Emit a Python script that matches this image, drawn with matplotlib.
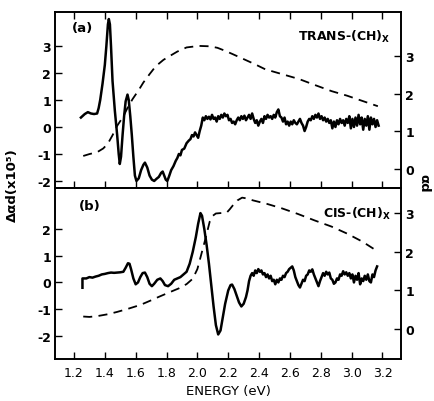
import matplotlib
matplotlib.use("Agg")
import matplotlib.pyplot as plt

plt.rcParams['font.family'] = 'DejaVu Sans'
plt.rcParams['axes.unicode_minus'] = False
plt.rcParams['mathtext.fontset'] = 'dejavusans'

# (a) trans-(CH)x : modulation spectrum (left axis) and absorption (right axis)
energy_a = [1.245, 1.27, 1.29, 1.31, 1.33, 1.35, 1.36, 1.37, 1.385, 1.40, 1.41, 1.42, 1.426, 1.433,
            1.44, 1.45, 1.465, 1.48, 1.49, 1.497, 1.505, 1.515, 1.525, 1.535, 1.547, 1.555, 1.565,
            1.575, 1.585, 1.595, 1.605, 1.62, 1.635, 1.65, 1.66, 1.675, 1.69, 1.705, 1.72, 1.735,
            1.75, 1.765, 1.775, 1.785, 1.795, 1.805, 1.815, 1.83, 1.845, 1.86, 1.87, 1.88, 1.89,
            1.90, 1.915, 1.93, 1.945, 1.955, 1.965, 1.975, 1.985, 1.995, 2.005, 2.015, 2.025,
            2.035, 2.045, 2.055, 2.065, 2.075, 2.085, 2.095, 2.105, 2.115, 2.125, 2.135, 2.145,
            2.155, 2.165, 2.175, 2.185, 2.195, 2.205, 2.215, 2.225, 2.235, 2.245, 2.255, 2.265,
            2.275, 2.285, 2.295, 2.305, 2.315, 2.325, 2.335, 2.345, 2.355, 2.365, 2.375, 2.385,
            2.395, 2.405, 2.415, 2.425, 2.435, 2.445, 2.455, 2.465, 2.475, 2.485, 2.495, 2.505,
            2.515, 2.525, 2.535, 2.545, 2.555, 2.565, 2.575, 2.585, 2.595, 2.605, 2.615, 2.625,
            2.635, 2.645, 2.655, 2.665, 2.675, 2.685, 2.695, 2.705, 2.715, 2.725, 2.735, 2.745,
            2.755, 2.765, 2.775, 2.785, 2.795, 2.805, 2.815, 2.825, 2.835, 2.845, 2.855, 2.865,
            2.875, 2.885, 2.895, 2.905, 2.915, 2.925, 2.935, 2.945, 2.955, 2.965, 2.975, 2.985,
            2.995, 3.005, 3.015, 3.025, 3.035, 3.045, 3.055, 3.065, 3.075, 3.085, 3.095, 3.105,
            3.115, 3.125, 3.135, 3.145, 3.155, 3.165, 3.175]
dad_a = [0.35, 0.48, 0.55, 0.50, 0.48, 0.50, 0.70, 1.00, 1.60, 2.30, 3.00, 3.80, 4.00, 3.80,
         3.00, 1.70, 0.60, -0.30, -1.00, -1.37, -1.10, -0.30, 0.40, 0.95, 1.20, 1.00, 0.40,
         -0.30, -1.10, -1.80, -2.00, -1.90, -1.60, -1.40, -1.32, -1.50, -1.80, -1.95, -2.00, -1.92,
         -1.85, -1.70, -1.65, -1.80, -1.95, -2.00, -1.85, -1.60, -1.45, -1.25, -1.15, -1.00, -1.05,
         -0.85, -0.80, -0.60, -0.50, -0.45, -0.30, -0.35, -0.20, -0.30, -0.40, -0.15, 0.05,
         0.35, 0.25, 0.40, 0.30, 0.38, 0.28, 0.45, 0.30, 0.35, 0.20, 0.40, 0.30,
         0.45, 0.35, 0.50, 0.40, 0.45, 0.25, 0.30, 0.15, 0.20, 0.10, 0.25, 0.35,
         0.25, 0.40, 0.30, 0.42, 0.25, 0.35, 0.45, 0.30, 0.50, 0.30, 0.15, 0.25,
         0.05, 0.20, 0.30, 0.15, 0.40, 0.30, 0.45, 0.35, 0.40, 0.30, 0.45, 0.35,
         0.55, 0.65, 0.40, 0.35, 0.20, 0.35, 0.10, 0.20, 0.05, 0.20, 0.10, 0.25,
         0.15, 0.10, 0.20, 0.30, 0.15, 0.05, -0.15, 0.00, 0.20, 0.30, 0.25, 0.40,
         0.30, 0.45, 0.35, 0.50, 0.30, 0.40, 0.25, 0.35, 0.20, 0.30, 0.15, 0.25,
         -0.05, 0.20, 0.00, 0.25, 0.10, 0.30, 0.15, 0.25, 0.05, 0.30, 0.15, 0.40,
         -0.05, 0.30, 0.00, 0.35, 0.05, 0.45, 0.10, 0.35, -0.10, 0.30, 0.05, 0.40,
         -0.10, 0.35, 0.10, 0.30, 0.00, 0.25, 0.05]
abs_energy_a = [1.26, 1.30, 1.35, 1.39, 1.42, 1.45, 1.48, 1.52, 1.55, 1.58, 1.62, 1.65, 1.69,
                1.73, 1.78, 1.82, 1.87, 1.93, 2.01, 2.08, 2.13, 2.18, 2.23, 2.30, 2.37, 2.44,
                2.55, 2.66, 2.77, 2.87, 2.97, 3.07, 3.17]
ad_a = [0.35, 0.40, 0.45, 0.55, 0.68, 0.90, 1.15, 1.40, 1.65, 1.86, 2.10, 2.30, 2.52,
        2.73, 2.90, 3.00, 3.12, 3.23, 3.27, 3.26, 3.22, 3.14, 3.05, 2.92, 2.79, 2.65,
        2.52, 2.39, 2.22, 2.07, 1.95, 1.81, 1.67]

# (b) cis-(CH)x
energy_b = [1.255, 1.255, 1.28, 1.30, 1.32, 1.34, 1.36, 1.38, 1.40, 1.42, 1.44, 1.46, 1.48, 1.50,
            1.52, 1.535, 1.55, 1.56, 1.57, 1.585, 1.60, 1.615, 1.63, 1.645, 1.66, 1.675, 1.69,
            1.705, 1.72, 1.74, 1.76, 1.775, 1.79, 1.81, 1.83, 1.85, 1.87, 1.89, 1.91, 1.93,
            1.95, 1.97, 1.99, 2.005, 2.02, 2.03, 2.045, 2.06, 2.075, 2.09, 2.105, 2.12, 2.135,
            2.15, 2.165, 2.18, 2.20, 2.215, 2.225, 2.24, 2.255, 2.27, 2.285, 2.30, 2.315, 2.325,
            2.335, 2.345, 2.355, 2.365, 2.375, 2.385, 2.395, 2.405, 2.415, 2.425, 2.435, 2.445,
            2.455, 2.465, 2.475, 2.485, 2.495, 2.505, 2.515, 2.525, 2.535, 2.545, 2.555, 2.565,
            2.575, 2.585, 2.595, 2.605, 2.615, 2.625, 2.635, 2.645, 2.655, 2.665, 2.675, 2.685,
            2.695, 2.705, 2.715, 2.725, 2.735, 2.745, 2.755, 2.765, 2.775, 2.785, 2.795, 2.805,
            2.815, 2.825, 2.835, 2.845, 2.855, 2.865, 2.875, 2.885, 2.895, 2.905, 2.915, 2.925,
            2.935, 2.945, 2.955, 2.965, 2.975, 2.985, 2.995, 3.005, 3.015, 3.025, 3.035, 3.045,
            3.055, 3.065, 3.075, 3.085, 3.095, 3.105, 3.115, 3.125, 3.135, 3.145, 3.155, 3.165]
dad_b = [-0.20, 0.15, 0.15, 0.20, 0.18, 0.22, 0.25, 0.30, 0.32, 0.35, 0.37, 0.36, 0.37, 0.38,
         0.40, 0.55, 0.72, 0.70, 0.50, 0.15, -0.07, 0.00, 0.20, 0.35, 0.37, 0.20, -0.05,
         -0.14, -0.05, 0.10, 0.15, 0.05, -0.10, -0.14, -0.05, 0.10, 0.15, 0.20, 0.30, 0.40,
         0.70, 1.15, 1.70, 2.20, 2.60, 2.50, 2.00, 1.40, 0.70, -0.10, -0.90, -1.60, -1.95,
         -1.80, -1.30, -0.80, -0.30, -0.10, -0.08, -0.25, -0.50, -0.75, -0.90, -0.80, -0.55, -0.30,
         0.05, 0.25, 0.35, 0.25, 0.45, 0.35, 0.50, 0.40, 0.45, 0.30, 0.35, 0.20,
         0.30, 0.15, 0.25, 0.05, 0.10, -0.07, 0.10, 0.00, 0.15, 0.10, 0.25, 0.20,
         0.35, 0.40, 0.50, 0.55, 0.60, 0.45, 0.20, 0.05, -0.10, -0.19, -0.05, 0.10,
         0.05, 0.25, 0.30, 0.45, 0.40, 0.49, 0.30, 0.15, 0.00, -0.14, 0.05, 0.20,
         0.35, 0.25, 0.40, 0.30, 0.37, 0.15, 0.10, -0.05, 0.00, 0.15, 0.10, 0.30,
         0.25, 0.42, 0.30, 0.38, 0.25, 0.35, 0.15, 0.30, 0.00, 0.25, 0.10, 0.35,
         -0.07, 0.15, 0.05, 0.25, 0.10, 0.30, 0.05, 0.00, 0.30, 0.20, 0.45, 0.60]
abs_energy_b = [1.26, 1.30, 1.35, 1.42, 1.48, 1.55, 1.63, 1.70, 1.75, 1.82, 1.88, 1.93, 1.97,
                2.00, 2.02, 2.05, 2.08, 2.10, 2.12, 2.15, 2.19, 2.21, 2.23, 2.26, 2.29, 2.32,
                2.36, 2.45, 2.55, 2.65, 2.76, 2.87, 2.97, 3.07, 3.16]
ad_b = [0.32, 0.31, 0.33, 0.38, 0.44, 0.52, 0.62, 0.74, 0.83, 0.95, 1.05, 1.16, 1.30,
        1.55, 1.85, 2.30, 2.78, 2.93, 2.99, 3.00, 3.01, 3.10, 3.20, 3.33, 3.40, 3.38,
        3.33, 3.24, 3.12, 2.98, 2.81, 2.65, 2.47, 2.26, 2.03]

x_ticks = [1.2, 1.4, 1.6, 1.8, 2.0, 2.2, 2.4, 2.6, 2.8, 3.0, 3.2]
x_labels = ['1.2', '1.4', '1.6', '1.8', '2.0', '2.2', '2.4', '2.6', '2.8', '3.0', '3.2']


def style_axes(ax, axr, yticks, ryticks, show_x, top_ticks):
    ax.set_xlim(1.077, 3.32)
    ax.set_xticks(x_ticks)
    if show_x:
        ax.set_xticklabels(x_labels, fontsize=9)
    else:
        ax.set_xticklabels([])
    ax.tick_params(axis='x', direction='in', length=5, width=1, top=top_ticks, bottom=True, pad=5)
    ax.set_yticks(yticks)
    ax.set_yticklabels([str(t) for t in yticks], fontsize=9, fontweight='bold')
    ax.tick_params(axis='y', direction='in', length=5, width=1, pad=3)
    axr.set_yticks(ryticks)
    axr.set_yticklabels([str(t) for t in ryticks], fontsize=9, fontweight='bold')
    axr.tick_params(axis='y', direction='in', length=5, width=1, pad=3)
    for a in (ax, axr):
        for s in a.spines.values():
            s.set_linewidth(1.2)


fig = plt.figure(figsize=(4.35, 4.02), dpi=100)
left, width = 55 / 435, 346 / 435
ax_a = fig.add_axes([left, 1 - 189 / 402, width, 176 / 402])
ax_b = fig.add_axes([left, 1 - 360 / 402, width, 171 / 402])
axr_a = ax_a.twinx()
axr_b = ax_b.twinx()

dash = (0, (5, 3.5))

ax_a.plot(energy_a, dad_a, color='black', lw=1.8)
axr_a.plot(abs_energy_a, ad_a, color='black', lw=1.3, linestyle=dash)
ax_a.set_ylim(-2.26, 4.26)
axr_a.set_ylim(-0.5, 4.17)
style_axes(ax_a, axr_a, [-2, -1, 0, 1, 2, 3], [0, 1, 2, 3], False, True)

ax_b.plot(energy_b, dad_b, color='black', lw=1.8)
axr_b.plot(abs_energy_b, ad_b, color='black', lw=1.3, linestyle=dash)
ax_b.set_ylim(-2.87, 3.54)
axr_b.set_ylim(-0.78, 3.65)
style_axes(ax_b, axr_b, [-2, -1, 0, 1, 2], [0, 1, 2, 3], True, False)

ax_a.text(0.05, 0.89, '(a)', transform=ax_a.transAxes, fontsize=9.5, fontweight='bold')
ax_a.text(0.97, 0.84, r'TRANS-(CH)$_\mathbf{X}$', transform=ax_a.transAxes,
          fontsize=9, ha='right', fontweight='bold')
ax_b.text(0.07, 0.88, '(b)', transform=ax_b.transAxes, fontsize=9.5, fontweight='bold')
ax_b.text(0.97, 0.83, r'CIS-(CH)$_\mathbf{X}$', transform=ax_b.transAxes,
          fontsize=9, ha='right', fontweight='bold')

fig.text(12 / 435, 1 - 185 / 402, 'Δαd(x10⁵)', rotation=90,
         ha='center', va='center', fontsize=9.5, fontweight='bold')
fig.text(424 / 435, 1 - 183 / 402, 'αd', rotation=-90,
         ha='center', va='center', fontsize=9.5, fontweight='bold')
ax_b.set_xlabel('ENERGY (eV)', fontsize=9.5, labelpad=4)

fig.savefig('out.png', dpi=100)
